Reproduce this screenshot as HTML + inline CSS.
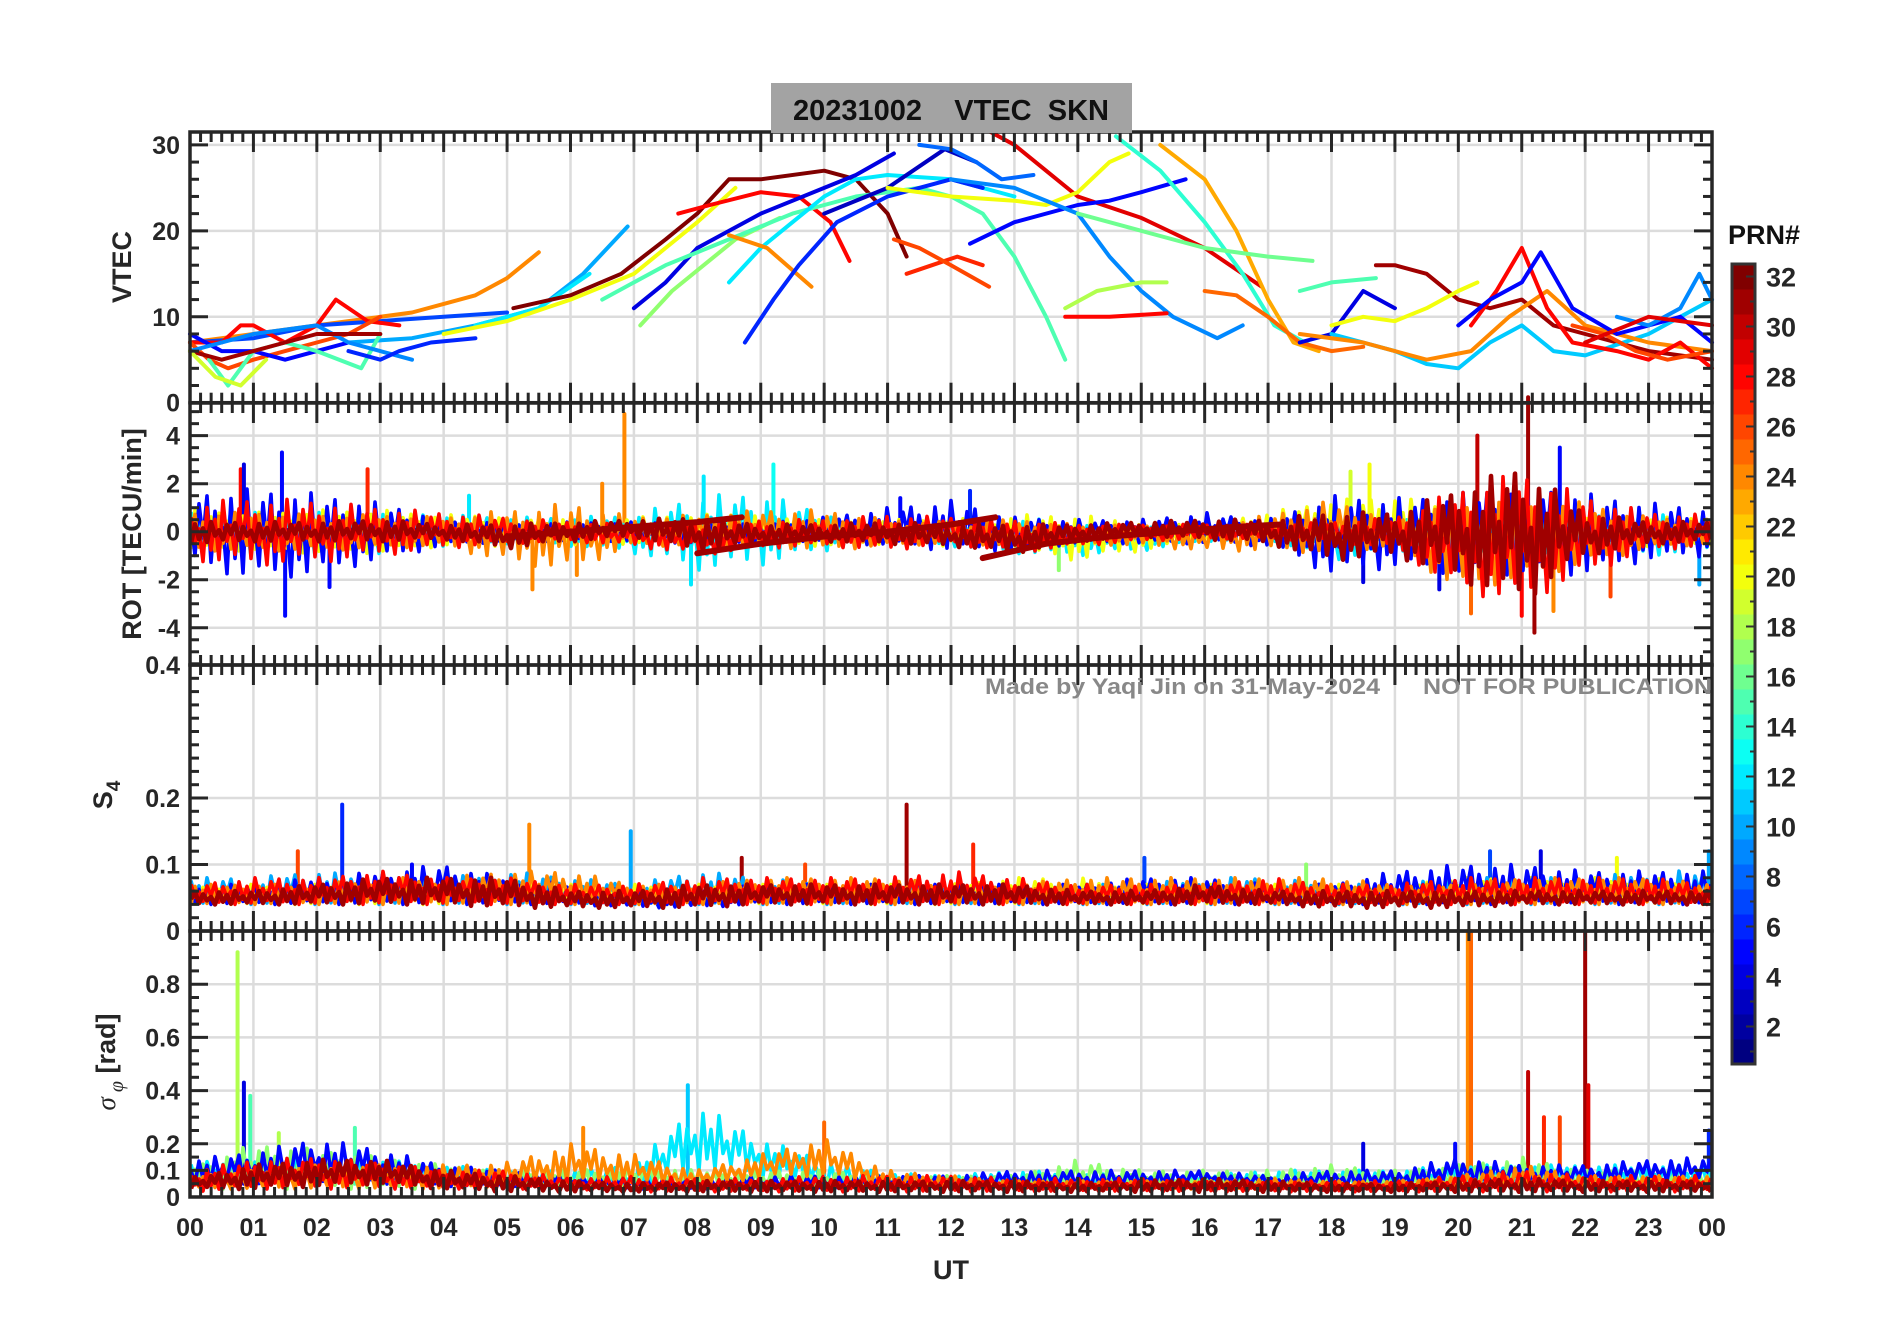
<!DOCTYPE html>
<html><head><meta charset="utf-8"><style>
html,body{margin:0;padding:0;background:#fff;}
svg{display:block;font-family:"Liberation Sans",Arial,sans-serif;font-weight:bold;}
</style></head><body>
<svg id="chart" width="1902" height="1330" viewBox="0 0 1902 1330" xmlns="http://www.w3.org/2000/svg">
<rect x="0" y="0" width="1902" height="1330" fill="#fff"/>
<g id="grid"></g>
<g id="data"></g>
<g id="axes"></g>
<rect x="771" y="83" width="361" height="50" fill="#a3a3a3"/>
<text x="951" y="120" font-size="29" text-anchor="middle" fill="#111" xml:space="preserve">20231002    VTEC  SKN</text>
<text x="985" y="694" font-size="22" fill="#888" textLength="395" lengthAdjust="spacingAndGlyphs">Made by Yaqi Jin on 31-May-2024</text>
<text x="1423" y="694" font-size="22" fill="#888" textLength="289" lengthAdjust="spacingAndGlyphs">NOT FOR PUBLICATION</text>
<text transform="translate(131,267) rotate(-90)" font-size="27" text-anchor="middle" fill="#262626">VTEC</text>
<text transform="translate(141,534) rotate(-90)" font-size="27" text-anchor="middle" fill="#262626">ROT [TECU/min]</text>
<text transform="translate(112,795) rotate(-90)" font-size="27" text-anchor="middle" fill="#262626">S<tspan font-size="19" dy="8">4</tspan></text>
<text transform="translate(115,1062) rotate(-90)" font-size="27" text-anchor="middle" fill="#262626"><tspan font-style="italic" font-weight="normal" font-family="Liberation Serif,serif">σ</tspan><tspan font-style="italic" font-weight="normal" font-size="20" dy="8" font-family="Liberation Serif,serif"> φ</tspan><tspan dy="-8"> [rad]</tspan></text>
<text x="951" y="1279" font-size="27" text-anchor="middle" fill="#262626">UT</text>
<text x="1728" y="244" font-size="27" fill="#111">PRN#</text>
<g id="cbar"></g>
</svg>
<script>
var X0=190,X1=1712;
var vtecPrn=[24,10,7,12,20,32,28,4,17,15,12,24,6,3,8,29,20,5,9,14,23,16,28,18,25,27,26,31,4,11,20,24,28,5,26,9,29,15,28,26,5,15,9,31,19,6];
var vtecT=[
[0,1,2,3,3.5,4,4.5,5,5.5],[2.5,3.5,4.5,5.5,6.2,6.9],[0,1,2,3,4,5],[4.5,5.5,6.3],[4,5,6,7,7.5,8,8.6],
[5.1,6,6.8,7.5,8,8.5,9,10,10.5,11,11.3],[7.7,8.2,9,9.6,10.1,10.4],[7,7.5,8,9,10,10.5,11.1],[7.1,7.6,8.1,8.6,9.3],
[6.5,7.5,8.5,9.5,10.5,11.5,12,12.5,13,13.5,13.8],[8.5,9,9.5,10,10.5,11,12,13],[8.5,9.1,9.8],[8.75,9.2,9.6,10.2,11,12,12.5],
[10,11,11.9,12.4],[11.5,12,12.4,12.8,13.3],[12.5,13,13.5,14,15,16,16.9],[11,12,13,13.5,14,14.5,14.8],[12.3,13,14,14.5,15,15.7],
[12,13,14,14.5,15,15.5,16.2,16.6],[14.6,15.3,16,16.6,17.1,17.7],[15.3,16,16.5,17,17.4,17.8],[14,15,16,17,17.7],[13.8,14.5,15.4],
[13.8,14.3,15,15.4],[16,16.5,17,17.5,18,18.5],[11.3,11.7,12.1,12.5],[11.1,11.5,12,12.6],
[18.7,19,19.5,20,20.5,21,21.5,22,23,24],[17.5,18,18.5,19],[18,19,19.5,20,20.5,21,21.5,22,23,24],[18,18.5,19,19.5,20,20.3],
[17.5,18.5,19.5,20.2,20.8,21.4,22,23,24],[20.2,20.6,21,21.4,21.8,22.5,23,23.5,24],[20,20.5,21,21.3,21.8,22.5,23,23.5,24],
[21.8,22.3,22.8,23.3,24],[22.5,23,23.5,23.8,24],[22,23,24],[17.5,18,18.7],
[0,0.5,0.8,1,1.5,2,2.3,2.8,3.3],[0,0.3,0.6,1,1.5,2,2.5,3],[0,0.5,1,1.5,2,2.5],[0.3,0.6,1,1.5,2,2.7,3],[0,0.5,1,2,2.5,3,3.5],
[0,0.5,1,1.5,2,3],[0,0.4,0.8,1.2],[2.5,3,3.3,3.8,4.5]];
var vtecV=[
[7,8,9,10,10.5,11.5,12.5,14.5,17.5],[7,7.5,9,11,15,20.5],[7,7.5,9,9.5,10,10.5],[9,11,15],[8,9.5,12,15,18,21,25],
[11,12.5,15,19,22,26,26,27,26,22,17],[22,23,24.5,24,21,16.5],[11,14,18,22,25,26.5,29],[9,13,16,19,21.5],
[12,16,19,22,24,25,24,22,17,10,5],[14,18,21,24,26,26.5,26,24],[19.5,18,13.5],[7,12,16,21,24,26,25],
[22,25,29.5,28],[30,29.5,28,26,26.5],[32,30,27,24,21.5,18,13.5],[25,24,23.5,23,24.5,28,29],[18.5,21,23,23.5,24.5,26],
[26,25,22,17,13,10,7.5,9],[31,27,21,15,9,6.5],[30,26,20,12,7,6],[22,20,18,17,16.5],[10,10,10.4],
[11,13,14,14],[13,12.5,10,7,6,6.5],[15,16,17,16],[19,18,16,13.5],
[16,16,15,12,11,12,9,8,6,5],[7,8,13,11],[8,6,4.5,4,7,9,6,5.5,8,12],[9,10,9.5,11,13,14],
[8,7,5,6,10,13,9,7,6],[9,13,18,11,7,6,5,7,4],[9,12,14,17.5,11,8,9,10,7],
[9,8,6,5,6],[10,9,11,15,12],[7,10,9],[13,14,14.5],
[7,7,9,9,7,9,12,9.5,9],[7,5,4,5,6,7,8,10],[8,6,6,5,6,7],[5,2,6,7,6,4,8],[6,7,8,9,7,6,5],
[6,5,6,7,8,8],[6,3,2,5],[6,5,6,7,7.5]];
var rotBandPrn=[12,20,5,24,28,31];
var rotBandHi=[
[1,1,1,0.9,0.7,0.6,0.6,0.7,1.5,1.6,0.8,0.4,0.4,0.6,0.4,0.3,0.2,0.3,0.5,0.6,0.8,0.9,0.8,0.9,0.8],
[0.9,0.8,0.9,0.9,0.7,0.7,0.6,0.6,0.7,0.8,0.6,0.5,0.5,0.7,0.7,0.4,0.3,0.8,1.3,1.5,0.9,0.7,0.7,0.6,0.6],
[1.6,1.8,1.6,1.2,0.6,0.4,0.4,0.4,0.4,0.4,0.6,1,1.3,0.6,0.5,0.5,0.8,0.5,1.5,1.4,1.6,2,1.6,1.2,1],
[0.8,0.8,0.7,0.7,0.6,0.9,1.2,0.6,0.7,0.9,0.9,0.5,0.4,0.5,0.3,0.4,0.2,0.7,1.3,0.6,1.6,1.6,1.2,0.6,0.5],
[1.2,1.4,1.3,1,0.8,0.6,0.4,0.3,0.4,0.5,0.5,0.7,0.6,0.5,0.3,0.3,0.3,0.3,0.4,0.6,1.8,2.5,1.5,0.8,0.7],
[0.4,0.4,0.4,0.5,0.3,0.3,0.4,0.5,0.6,0.3,0.3,0.4,0.3,0.3,0.3,0.4,0.5,0.5,0.8,0.8,1.8,2.8,0.8,0.4,0.4]];
var rotBandLo=[
[-0.8,-1,-1,-0.9,-0.6,-0.5,-0.6,-0.9,-1.6,-1.4,-0.8,-0.5,-0.6,-0.9,-1,-0.8,-0.4,-0.3,-1.2,-0.8,-0.8,-1,-0.9,-1,-0.8],
[-0.8,-0.8,-0.9,-0.9,-0.6,-0.6,-0.6,-0.5,-0.5,-0.6,-0.6,-0.5,-0.6,-0.9,-1.2,-0.8,-0.4,-0.3,-0.6,-0.7,-0.6,-0.8,-0.8,-0.6,-0.6],
[-1.4,-2,-1.8,-1.2,-0.6,-0.4,-0.4,-0.4,-0.5,-0.4,-0.4,-0.6,-0.8,-0.8,-0.5,-0.5,-0.5,-0.6,-1.8,-1.5,-1.8,-1.8,-1.8,-1.2,-1],
[-0.8,-0.8,-0.8,-0.7,-0.6,-1.3,-1.6,-0.6,-0.6,-0.6,-0.8,-0.6,-0.5,-0.6,-0.5,-0.6,-0.8,-0.8,-0.9,-0.6,-2.5,-2,-1.4,-0.7,-0.5],
[-1.2,-1.4,-1.3,-1,-0.7,-0.5,-0.4,-0.6,-1,-0.7,-0.6,-0.8,-0.5,-0.9,-0.6,-0.4,-0.3,-0.3,-0.4,-0.7,-2.5,-3,-1.8,-0.8,-0.6],
[-0.5,-0.4,-0.4,-0.4,-0.3,-0.7,-0.4,-0.2,-0.8,-0.5,-0.4,-0.5,-0.6,-0.9,-0.4,-0.2,-0.3,-0.5,-1.2,-1,-2,-3,-1,-0.5,-0.4]];
var rotDriftT=[[5,6,7,8,8.7],[8,9,10,11,12,12.7],[12.5,13.5,14.5,15.5,16.5,17.2]];
var rotDriftV=[[-0.2,0,0.2,0.4,0.6],[-0.9,-0.5,-0.2,0,0.3,0.6],[-1.1,-0.5,-0.2,0,0.2,0.3]];
var rotSpikeT=[0.8,0.85,1.45,1.5,2.2,2.8,6.85,6.5,5.4,8.1,9.2,7.9,11.2,12.3,18.5,18.6,20.2,20.3,21.1,21.2,21.6,21.5,22.4,21.0,19.7,23.8,18.3,13.7,4.4,6.1];
var rotSpikeV=[2.6,2.8,3.3,-3.5,-2.3,2.6,4.9,2.0,-2.4,2.3,2.8,-2.2,1.4,1.7,-2.1,2.8,-3.4,4.0,5.6,-4.2,3.5,-3.3,-2.7,-3.5,-2.4,-2.2,2.5,-1.6,1.5,-1.8];
var rotSpikeP=[28,4,5,5,5,27,24,24,24,12,13,12,5,6,4,20,25,30,31,31,5,24,26,28,4,10,19,17,12,24];
var s4BandPrn=[10,20,5,24,28,31];
var s4BandHi=[
[0.08,0.08,0.09,0.08,0.08,0.09,0.08,0.07,0.09,0.08,0.07,0.07,0.07,0.07,0.07,0.07,0.08,0.08,0.07,0.07,0.08,0.08,0.08,0.09,0.09],
[0.07,0.07,0.07,0.07,0.07,0.07,0.07,0.07,0.07,0.07,0.07,0.07,0.07,0.08,0.08,0.07,0.07,0.07,0.07,0.07,0.08,0.08,0.08,0.08,0.07],
[0.07,0.07,0.08,0.09,0.1,0.08,0.07,0.06,0.06,0.07,0.07,0.07,0.07,0.07,0.07,0.08,0.08,0.07,0.07,0.09,0.1,0.1,0.09,0.09,0.09],
[0.07,0.07,0.07,0.08,0.08,0.09,0.09,0.07,0.07,0.08,0.08,0.08,0.07,0.07,0.08,0.08,0.08,0.08,0.08,0.07,0.07,0.08,0.08,0.08,0.07],
[0.07,0.08,0.08,0.09,0.08,0.08,0.07,0.07,0.08,0.08,0.08,0.08,0.09,0.08,0.07,0.07,0.07,0.08,0.07,0.07,0.08,0.08,0.08,0.08,0.07],
[0.06,0.06,0.07,0.08,0.08,0.08,0.06,0.06,0.07,0.07,0.07,0.07,0.07,0.07,0.06,0.06,0.07,0.06,0.06,0.06,0.06,0.06,0.06,0.06,0.06]];
var s4BandLo=[
[0.04,0.04,0.04,0.04,0.04,0.04,0.04,0.04,0.04,0.04,0.04,0.04,0.04,0.04,0.04,0.04,0.04,0.04,0.04,0.04,0.04,0.04,0.04,0.04,0.04],
[0.04,0.04,0.04,0.04,0.04,0.04,0.04,0.04,0.04,0.04,0.04,0.04,0.04,0.04,0.04,0.04,0.04,0.04,0.04,0.04,0.04,0.04,0.04,0.04,0.04],
[0.04,0.04,0.04,0.04,0.04,0.04,0.04,0.035,0.035,0.04,0.04,0.04,0.04,0.04,0.04,0.04,0.04,0.04,0.04,0.04,0.04,0.04,0.04,0.04,0.04],
[0.04,0.04,0.04,0.04,0.04,0.04,0.04,0.04,0.04,0.04,0.04,0.04,0.04,0.04,0.04,0.04,0.04,0.04,0.04,0.04,0.04,0.04,0.04,0.04,0.04],
[0.04,0.04,0.04,0.04,0.04,0.04,0.04,0.04,0.04,0.04,0.04,0.04,0.04,0.04,0.04,0.04,0.04,0.04,0.04,0.04,0.04,0.04,0.04,0.04,0.04],
[0.04,0.04,0.04,0.04,0.04,0.035,0.035,0.035,0.035,0.04,0.04,0.04,0.04,0.04,0.04,0.04,0.04,0.04,0.035,0.035,0.035,0.04,0.04,0.04,0.04]];
var s4SpikeT=[2.4,1.7,5.35,6.95,11.3,12.35,8.7,3.5,20.5,21.3,23.95,15.05,22.5,9.7,17.6];
var s4SpikeV=[0.19,0.12,0.16,0.15,0.19,0.13,0.11,0.1,0.12,0.12,0.12,0.11,0.11,0.1,0.1];
var s4SpikeP=[6,26,24,10,31,27,31,5,7,4,10,7,20,26,17];
var sigBandPrn=[12,17,5,24,28,31];
var sigBandHi=[
[0.13,0.14,0.15,0.14,0.12,0.1,0.1,0.12,0.35,0.22,0.14,0.09,0.08,0.1,0.09,0.08,0.08,0.1,0.1,0.1,0.12,0.12,0.12,0.12,0.12],
[0.11,0.2,0.18,0.15,0.12,0.1,0.1,0.12,0.1,0.1,0.1,0.08,0.08,0.08,0.14,0.1,0.1,0.1,0.12,0.1,0.12,0.15,0.1,0.1,0.1],
[0.14,0.17,0.22,0.18,0.12,0.1,0.08,0.07,0.07,0.08,0.08,0.08,0.08,0.1,0.1,0.1,0.1,0.08,0.1,0.1,0.15,0.12,0.12,0.14,0.15],
[0.08,0.1,0.12,0.12,0.12,0.13,0.2,0.16,0.1,0.16,0.22,0.1,0.08,0.06,0.06,0.06,0.06,0.07,0.06,0.06,0.08,0.12,0.08,0.08,0.08],
[0.1,0.14,0.15,0.13,0.1,0.1,0.07,0.08,0.07,0.07,0.08,0.08,0.08,0.07,0.07,0.07,0.06,0.06,0.06,0.06,0.08,0.1,0.08,0.08,0.08],
[0.07,0.12,0.14,0.14,0.1,0.08,0.06,0.05,0.06,0.06,0.06,0.06,0.06,0.06,0.05,0.06,0.07,0.06,0.05,0.05,0.06,0.07,0.06,0.06,0.06]];
var sigBandLo=[
[0.05,0.05,0.05,0.05,0.04,0.04,0.04,0.03,0.1,0.08,0.04,0.03,0.03,0.03,0.03,0.03,0.03,0.03,0.03,0.03,0.04,0.04,0.04,0.04,0.04],
[0.03,0.03,0.03,0.03,0.03,0.03,0.03,0.03,0.03,0.03,0.03,0.03,0.03,0.03,0.03,0.03,0.03,0.03,0.03,0.03,0.03,0.03,0.03,0.03,0.03],
[0.05,0.05,0.06,0.05,0.04,0.04,0.04,0.03,0.03,0.03,0.03,0.04,0.04,0.04,0.04,0.04,0.05,0.04,0.04,0.04,0.05,0.05,0.05,0.06,0.06],
[0.03,0.03,0.03,0.03,0.03,0.04,0.05,0.05,0.04,0.07,0.08,0.03,0.03,0.03,0.03,0.03,0.03,0.03,0.03,0.03,0.03,0.03,0.03,0.03,0.03],
[0.02,0.03,0.03,0.03,0.03,0.03,0.03,0.02,0.02,0.02,0.02,0.02,0.02,0.02,0.02,0.02,0.02,0.02,0.02,0.02,0.02,0.02,0.02,0.02,0.02],
[0.03,0.03,0.04,0.05,0.03,0.02,0.02,0.02,0.02,0.02,0.02,0.02,0.02,0.02,0.02,0.02,0.02,0.02,0.02,0.02,0.02,0.02,0.02,0.02,0.02]];
var sigSpikeT=[0.75,0.85,0.95,20.15,20.2,21.1,21.35,21.6,22.0,22.05,19.95,18.5,23.95,7.85,1.4,2.6,6.2,10.0];
var sigSpikeV=[0.92,0.43,0.38,1.0,1.0,0.47,0.3,0.3,1.0,0.42,0.2,0.2,0.25,0.42,0.24,0.26,0.26,0.28];
var sigSpikeP=[18,4,15,24,25,30,27,26,31,29,5,4,6,11,18,15,24,25];
var xTickLabels=["00","01","02","03","04","05","06","07","08","09","10","11","12","13","14","15","16","17","18","19","20","21","22","23","00"];
var vtecTicks=[0,10,20,30];
var rotTicks=[-4,-2,0,2,4];
var s4Ticks=[0,0.1,0.2,0.4];
var sigTicks=[0,0.1,0.2,0.4,0.6,0.8];
var cbarTicks=[2,4,6,8,10,12,14,16,18,20,22,24,26,28,30,32];

var NS='http://www.w3.org/2000/svg';
function mk(tag,attrs,parent){var e=document.createElementNS(NS,tag);for(var k in attrs)e.setAttribute(k,attrs[k]);parent.appendChild(e);return e;}
function jet(p){var f=(p-1)/31;function c(v){return Math.round(255*Math.max(0,Math.min(1,v)));}
 return 'rgb('+c(1.5-Math.abs(4*f-3))+','+c(1.5-Math.abs(4*f-2))+','+c(1.5-Math.abs(4*f-1))+')';}
function xs(h){return X0+(X1-X0)*h/24;}
var panels=[
 {name:'vtec',top:132,bot:402.7,min:0,max:31.5,minor:2,ticks:vtecTicks},
 {name:'rot',top:403,bot:665,min:-5.55,max:5.36,minor:0.5,ticks:rotTicks},
 {name:'s4',top:665,bot:931,min:0,max:0.4,minor:0.02,ticks:s4Ticks},
 {name:'sigma',top:931,bot:1197,min:0,max:1.0,minor:0.05,ticks:sigTicks}];
function ys(p,v){return p.bot-(p.bot-p.top)*(v-p.min)/(p.max-p.min);}
var grid=document.getElementById('grid'),data=document.getElementById('data'),axes=document.getElementById('axes');
var pat=[0.9,0.2,0.7,0.05,1,0.35,0.6,0.15,0.85,0.4,0.95,0.1,0.75,0.3,0.55,0];

panels.forEach(function(p){
 for(var h=1;h<24;h++){var gl=mk('line',{x1:xs(h),x2:xs(h),y1:p.top,y2:p.bot,stroke:'#dcdcdc','stroke-width':2.5},grid);
  
  }
 p.ticks.forEach(function(t){var y=ys(p,t);var gl=mk('line',{x1:X0,x2:X1,y1:y,y2:y,stroke:'#dcdcdc','stroke-width':2.5},grid);
  
  });
});

function band(p,prn,hi,lo,sw,phase){
 var pts=[];var step=4;var i=0;
 for(var x=X0+1;x<=X1-1;x+=step,i++){var h=(x-X0)/(X1-X0)*24;var k=Math.min(23,Math.floor(h));var fr=h-k;
  var H=hi[k]+(hi[k+1]-hi[k])*fr,L=lo[k]+(lo[k+1]-lo[k])*fr;var f=pat[(i+phase)%pat.length];
  var v=L+(H-L)*f;pts.push(x.toFixed(1)+','+ys(p,v).toFixed(1));}
 var pl=mk('polyline',{points:pts.join(' '),fill:'none',stroke:jet(prn),'stroke-width':sw,'stroke-linejoin':'round'},data);
 
 
}
function spikes(p,T,V,P,base){
 for(var i=0;i<T.length;i++){var s=mk('line',{x1:xs(T[i]),x2:xs(T[i]),y1:ys(p,base),y2:ys(p,V[i]),stroke:jet(P[i]),'stroke-width':4,'stroke-linecap':'round'},data);
  
  }
}
function trace(p,T,V,prn,w,name){var pts=[];for(var j=0;j<T.length;j++)pts.push(xs(T[j]).toFixed(1)+','+ys(p,V[j]).toFixed(1));
 var pl=mk('polyline',{points:pts.join(' '),fill:'none',stroke:jet(prn),'stroke-width':w,'stroke-linejoin':'round','stroke-linecap':'round'},data);
 
 }
for(var i=0;i<vtecT.length;i++)trace(panels[0],vtecT[i],vtecV[i],vtecPrn[i],4,'vtec-trace-prn'+vtecPrn[i]);
spikes(panels[1],rotSpikeT,rotSpikeV,rotSpikeP,0);
for(var b=0;b<rotBandPrn.length;b++)band(panels[1],rotBandPrn[b],rotBandHi[b],rotBandLo[b],b==5?4.6:3.6,b*3);
for(var i=0;i<rotDriftT.length;i++)trace(panels[1],rotDriftT[i],rotDriftV[i],31,6,'rot-drift-prn31');
spikes(panels[2],s4SpikeT,s4SpikeV,s4SpikeP,0.05);
for(var b=0;b<s4BandPrn.length;b++)band(panels[2],s4BandPrn[b],s4BandHi[b],s4BandLo[b],b==5?4.6:3.6,b*5);
spikes(panels[3],sigSpikeT,sigSpikeV,sigSpikeP,0.05);
for(var b=0;b<sigBandPrn.length;b++)band(panels[3],sigBandPrn[b],sigBandHi[b],sigBandLo[b],b==5?4.6:3.6,b*7);

var AC='#262626';
panels.forEach(function(p){
 var fr=mk('rect',{x:X0,y:p.top,width:X1-X0,height:p.bot-p.top,fill:'none',stroke:AC,'stroke-width':3.5},axes);
 
 
 for(var m=0;m<=144;m++){var x=xs(m/6);var L=(m%6==0)?20:10;
  var t1=mk('line',{x1:x,x2:x,y1:p.top,y2:p.top+L,stroke:AC,'stroke-width':3},axes);
  
  
  var t2=mk('line',{x1:x,x2:x,y1:p.bot,y2:p.bot-L,stroke:AC,'stroke-width':3},axes);
  
  }
 var start=Math.ceil(p.min/p.minor-1e-6);
 for(var k=start;k*p.minor<=p.max+1e-9;k++){var v=k*p.minor;var y=ys(p,v);if(y<p.top+2)continue;
  var major=p.ticks.some(function(t){return Math.abs(t-v)<1e-6;});var L=major?18:9;
  var a=mk('line',{x1:X0,x2:X0+L,y1:y,y2:y,stroke:AC,'stroke-width':3},axes);
  
  
  var c=mk('line',{x1:X1,x2:X1-L,y1:y,y2:y,stroke:AC,'stroke-width':3},axes);
  
  }
 p.ticks.forEach(function(t){var tx=mk('text',{x:X0-10,y:ys(p,t)+9,'font-size':25,'text-anchor':'end',fill:AC},axes);tx.textContent=''+t;
  
  });
});
xTickLabels.forEach(function(l,i){var t=mk('text',{x:xs(i),y:1236,'font-size':25,'text-anchor':'middle',fill:AC},axes);t.textContent=l;
 
 });

var cb=document.getElementById('cbar');var CT=264,CB=1064,CX=1732,CW=23;
function cy(v){return CB-(CB-CT)*(v-0.5)/32;}
for(var p=1;p<=32;p++){var r=mk('rect',{x:CX,y:cy(p+0.5),width:CW,height:cy(p-0.5)-cy(p+0.5)+0.5,fill:jet(p)},cb);
 
 }
var cf=mk('rect',{x:CX,y:CT,width:CW,height:CB-CT,fill:'none',stroke:'#333','stroke-width':3},cb);


for(var p=1;p<=32;p++){var tk=mk('line',{x1:CX+CW,x2:CX+CW-(p%2==0?9:5),y1:cy(p),y2:cy(p),stroke:'#333','stroke-width':2},cb);
 
 }
cbarTicks.forEach(function(v){var t=mk('text',{x:1766,y:cy(v)+10,'font-size':27,fill:'#262626'},cb);t.textContent=v;
 
 });
</script>
</body></html>
